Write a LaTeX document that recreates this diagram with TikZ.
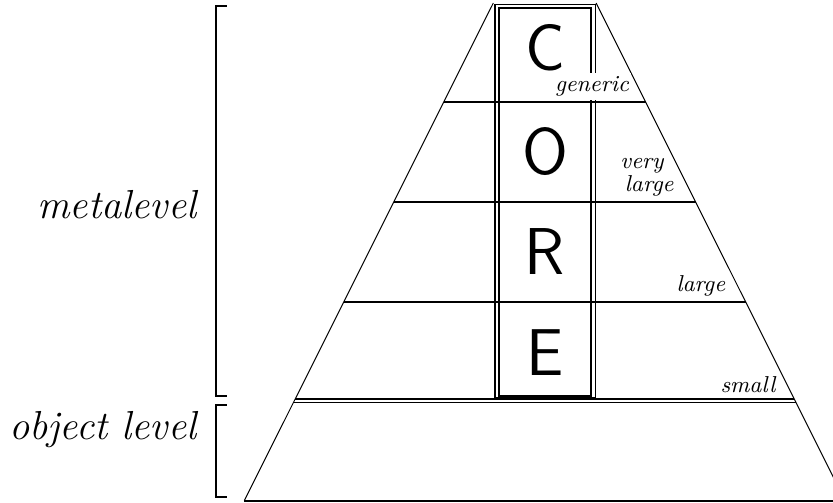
\documentclass[tikz,border=0pt]{standalone}
\begin{document}
\begin{tikzpicture}[x=0.4pt,y=-0.4pt,
  edge/.style={line width=0.4pt},
  level/.style={line width=0.8pt},
  frame/.style={line width=0.6pt},
  bracket/.style={line width=0.8pt},
  letter/.style={inner sep=0pt, anchor=base, font=\fontsize{26.5}{30}\selectfont\sffamily},
  side/.style={inner sep=0pt, anchor=base east, font=\fontsize{16.2}{19}\selectfont\itshape},
  tag/.style={inner sep=0pt, anchor=base west, font=\fontsize{9.2}{7.6}\selectfont\itshape}]
\useasboundingbox (0,0) rectangle (833,502);
\clip (0,0) rectangle (833,502);
% pyramid outline
\coordinate (tl) at (493.3,3);
\coordinate (tr) at (596.1,3);
\coordinate (bl) at (244.4,500.5);
\coordinate (br) at (845.0,500.5);
\draw[edge] (tl) -- (bl);
\draw[edge] (tr) -- (br);
\draw[level] (bl) -- (br);
% level lines
\coordinate (l1) at (443.9,101.7); \coordinate (r1) at (645.5,101.7);
\coordinate (l2) at (393.7,202.0); \coordinate (r2) at (695.7,202.0);
\coordinate (l3) at (343.9,301.7); \coordinate (r3) at (745.5,301.7);
\coordinate (l4) at (295.2,398.8); \coordinate (r4) at (794.2,398.8);
\coordinate (l5) at (293.3,402.7); \coordinate (r5) at (796.1,402.7);
\draw[level] (l1) -- (r1);
\draw[level] (l2) -- (r2);
\draw[level] (l3) -- (r3);
\draw[frame] (l4) -- (r4);
\draw[frame] (l5) -- (r5);
% CORE column
\draw[frame] (495,4.5) rectangle (595.5,398);
\draw[frame] (499,8) rectangle (591,396);
\node[letter] (c) at (545,70) {C};
\node[letter] (o) at (545,174) {O};
\node[letter] (r) at (545,274) {R};
\node[letter] (e) at (545,375) {E};
% tags
\node[tag, fill=white, inner xsep=1pt, inner ysep=1.5pt] (generic) at (552,91.7) {generic};
\node[tag, align=left, anchor=center] (verylarge) at (647,177) {very\\\hspace*{1.8pt}large};
\node[tag] (large) at (676,291.7) {large};
\node[tag] (small) at (720,392.7) {small};
% brackets
\draw[bracket] (226.7,5.7) -- (215.7,5.7) -- (215.7,396) -- (226.7,396);
\draw[bracket] (226.7,405) -- (215.7,405) -- (215.7,496.7) -- (226.7,496.7);
\node[side] (meta) at (197,218) {metalevel};
\node[side] (obj) at (197,439) {object level};
\end{tikzpicture}
\end{document}
